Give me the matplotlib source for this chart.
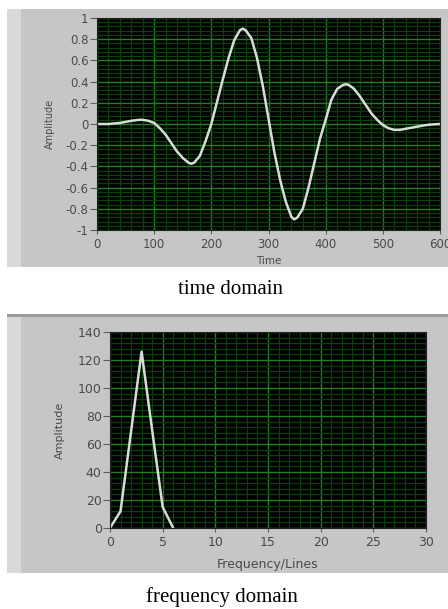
import numpy as np
import matplotlib.pyplot as plt
from matplotlib.patches import Rectangle
from matplotlib.ticker import MultipleLocator

# 時間領域の波形 (おおむね 10 刻み、極値付近は追加で読み取り)
time_x = [0, 10, 20, 30, 40, 50, 60, 70, 75, 80, 90,
          100, 110, 120, 130, 140, 150, 160, 165, 170, 180, 190,
          200, 210, 220, 230, 240, 250, 255, 260, 270, 280, 290,
          300, 310, 320, 330, 340, 345, 350, 360, 370, 380, 390,
          400, 410, 420, 430, 435, 440, 450, 460, 470, 480, 490,
          500, 510, 520, 530, 540, 550, 560, 570, 580, 590, 600]
time_y = [0.0, 0.0, 0.0, 0.005, 0.01, 0.02, 0.03, 0.037, 0.04, 0.039, 0.03,
          0.01, -0.04, -0.10, -0.18, -0.26, -0.32, -0.365, -0.375, -0.365, -0.30, -0.16,
          0.0, 0.21, 0.42, 0.62, 0.79, 0.885, 0.9, 0.885, 0.81, 0.62, 0.36,
          0.05, -0.26, -0.52, -0.73, -0.875, -0.9, -0.885, -0.80, -0.60, -0.37, -0.14,
          0.04, 0.23, 0.33, 0.368, 0.375, 0.37, 0.33, 0.26, 0.18, 0.10, 0.04,
          -0.01, -0.04, -0.055, -0.055, -0.045, -0.035, -0.025, -0.015, -0.007, -0.003,
          0.0]

# 周波数領域 (スペクトル線)
freq_x = [0, 1, 2, 3, 4, 5, 6]
freq_y = [0, 12, 69, 126, 70, 15, 0]

W, H = 448, 609
PANEL = '#c6c6c6'
MAJOR = '#1f801f'
MINOR = '#0c3d0c'
TXT = '#4a4a4a'
CURVE = '#d8dcd8'


def fx(px):
    return px / W


def fy(py):
    return 1 - py / H


def add_rect(fig, x, y, w, h, color):
    fig.patches.append(Rectangle((fx(x), fy(y + h)), fx(w), h / H,
                                 transform=fig.transFigure, facecolor=color,
                                 edgecolor='none', zorder=-5))


def panel(fig, top, bottom):
    """LabVIEW 風のグレー枠を描く"""
    add_rect(fig, 7, top, 441, bottom - top, PANEL)
    add_rect(fig, 7, top, 14, bottom - top, '#d9d9d9')


def setup_axes(ax, xmaj, xmin, ymaj, ymin, fs):
    ax.set_facecolor('black')
    ax.xaxis.set_major_locator(MultipleLocator(xmaj))
    ax.xaxis.set_minor_locator(MultipleLocator(xmin))
    ax.yaxis.set_major_locator(MultipleLocator(ymaj))
    ax.yaxis.set_minor_locator(MultipleLocator(ymin))
    ax.grid(which='minor', color=MINOR, lw=0.9)
    ax.grid(which='major', color=MAJOR, lw=1.0)
    ax.set_axisbelow(True)
    ax.tick_params(which='major', direction='out', width=0.8,
                   color='#606060', labelcolor=TXT, labelsize=fs)
    ax.tick_params(axis='y', which='major', length=5, pad=1)
    ax.tick_params(axis='x', which='major', length=3, pad=3)
    ax.tick_params(which='minor', length=0)
    for s in ax.spines.values():
        s.set_color('#202020')


fig = plt.figure(figsize=(W / 100, H / 100), dpi=100)
fig.patch.set_facecolor('white')

# 上段: time domain
panel(fig, 9, 267)
ax1 = fig.add_axes([fx(97), fy(230), fx(343), 212 / H])
setup_axes(ax1, 100, 20, 0.2, 0.04, 8.5)
ax1.plot(time_x, time_y, color=CURVE, lw=1.8)
ax1.set_xlim(0, 600)
ax1.set_ylim(-1, 1)
ax1.set_yticks(np.arange(-1, 1.01, 0.2))
ax1.set_yticklabels(['-1', '-0.8', '-0.6', '-0.4', '-0.2', '0',
                     '0.2', '0.4', '0.6', '0.8', '1'])
ax1.set_xlabel('Time', fontsize=7.5, color=TXT)
ax1.set_ylabel('Amplitude', fontsize=7, color=TXT)
ax1.xaxis.set_label_coords(0.5, -0.123)
ax1.yaxis.set_label_coords(-0.122, 0.5)

# 下段: frequency domain
panel(fig, 315, 573)
add_rect(fig, 7, 314, 441, 3, '#9a9a9a')
ax2 = fig.add_axes([fx(110), fy(528), fx(316), 196 / H])
setup_axes(ax2, 5, 1, 20, 4, 9)
ax2.plot(freq_x, freq_y, color=CURVE, lw=1.8)
ax2.set_xlim(0, 30)
ax2.set_ylim(0, 140)
ax2.set_xlabel('Frequency/Lines', fontsize=9, color=TXT)
ax2.set_ylabel('Amplitude', fontsize=8, color=TXT)
ax2.xaxis.set_label_coords(0.5, -0.153)
ax2.yaxis.set_label_coords(-0.142, 0.5)

# キャプション
fig.text(fx(230), fy(289), 'time domain', family='Liberation Serif',
         fontsize=15, ha='center', va='center')
fig.text(fx(222), fy(597), 'frequency domain', family='Liberation Serif',
         fontsize=15, ha='center', va='center')

fig.savefig('out.png', dpi=100)
